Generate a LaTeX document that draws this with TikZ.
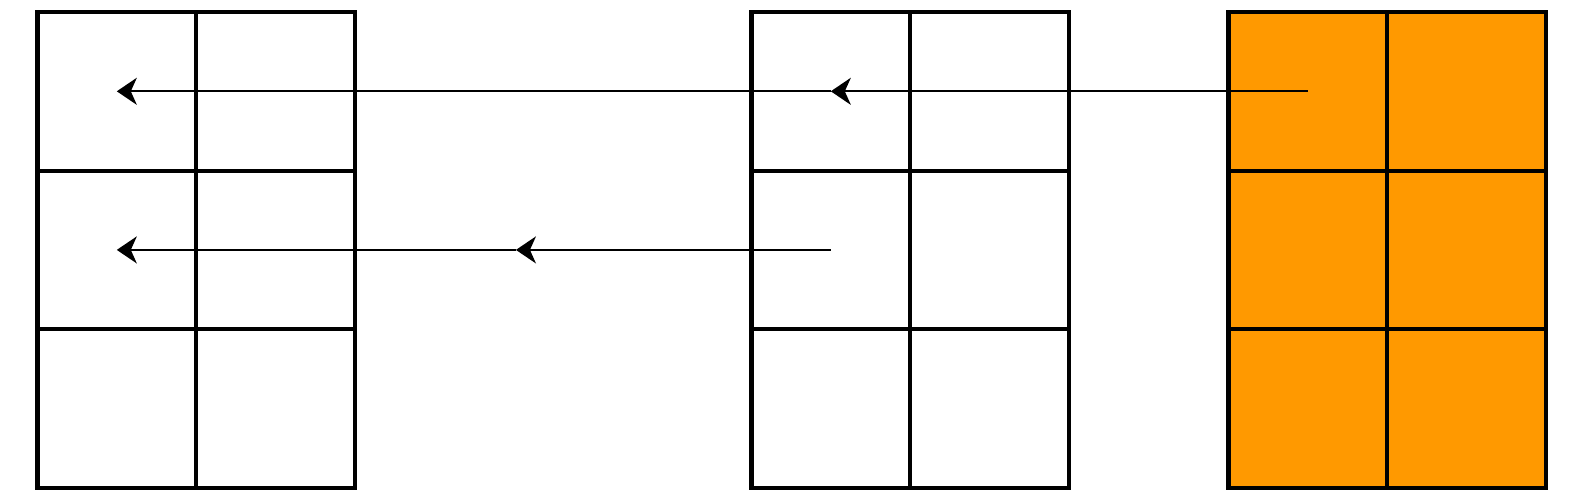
\documentclass[tikz,border=0pt]{standalone}
\usetikzlibrary{arrows.meta}
\begin{document}
\begin{tikzpicture}[x=0.5pt,y=-0.5pt,>={Stealth[length=10pt,width=13.5pt,inset=3pt]}]
    \definecolor{gridorange}{HTML}{FF9900}
    \tikzset{cell/.style={draw,line width=2.1pt,minimum width=79.3pt,minimum height=79.3pt,inner sep=0pt,outer sep=0pt}}
    \useasboundingbox (0,0) rectangle (1582,500);
    % Relleno de la cuadricula derecha
    \fill[gridorange] (1228.5,12) rectangle (1545.7,488);
    % Tres cuadriculas de 3x2 celdas
    \foreach \g/\x in {L/37.5,M/751.5,R/1228.5}
      \foreach \r in {1,2,3}
        \foreach \c in {1,2}
          \node[cell] (\g-\r-\c) at ({\x+158.6*(\c-0.5)},{12+158.6*(\r-0.5)}) {};
    % Flechas entre celdas
    \draw[line width=1pt,->] (R-1-1.center) -- (M-1-1.center);
    \draw[line width=1pt,->] (M-1-1.center) -- (L-1-1.center);
    \path (M-2-1.center) -- (L-2-1.center) coordinate[pos=0.441] (mid2);
    \draw[line width=1pt,->] (M-2-1.center) -- (mid2);
    \draw[line width=1pt,->] (mid2) -- (L-2-1.center);
\end{tikzpicture}
\end{document}
